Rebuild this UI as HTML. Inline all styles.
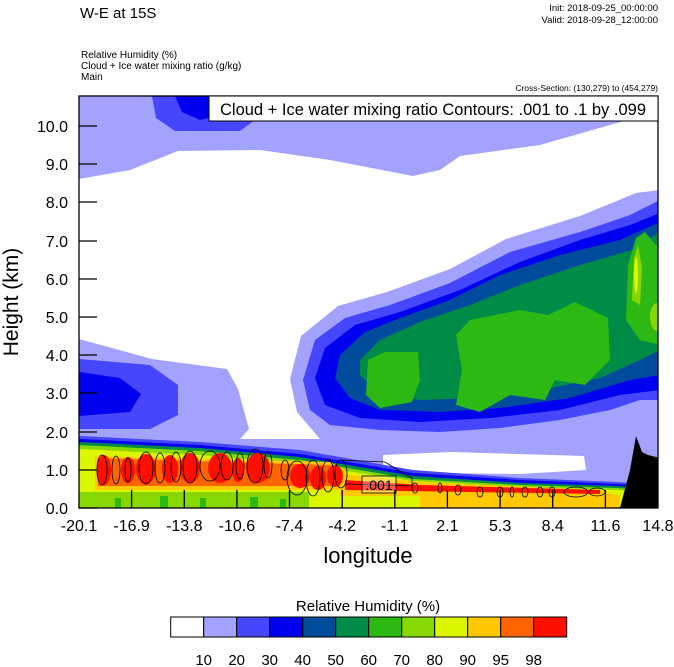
<!DOCTYPE html>
<html><head><meta charset="utf-8"><style>
html,body{margin:0;padding:0;background:#fff;}
svg{display:block;font-family:"Liberation Sans",Arial,sans-serif;}
</style></head><body>
<svg width="674" height="667" viewBox="0 0 674 667" xmlns="http://www.w3.org/2000/svg">
<defs><clipPath id="pc"><rect x="79" y="96" width="579" height="412"/></clipPath></defs>
<text x="80" y="18" font-size="15">W-E at 15S</text>
<text x="658" y="11" font-size="9.5" text-anchor="end">Init: 2018-09-25_00:00:00</text>
<text x="658" y="23" font-size="9.5" text-anchor="end">Valid: 2018-09-28_12:00:00</text>
<text x="81" y="58" font-size="10">Relative Humidity   (%)</text>
<text x="81" y="69" font-size="10">Cloud + Ice water mixing ratio   (g/kg)</text>
<text x="81" y="80" font-size="10">Main</text>
<text x="658" y="91" font-size="8.5" text-anchor="end">Cross-Section: (130,279) to (454,279)</text>
<g clip-path="url(#pc)">
<rect x="79" y="96" width="579" height="412" fill="#a3a3ff"/>
<path d="M152,96 L257,96 L255,120 L240,131 L175,131 L156,118 Z" fill="#4646ff"/>
<path d="M175,96 L227,96 L222,115 L200,120 L182,112 Z" fill="#0000f0"/>
<path d="M79,179 L130,170 L178,151 L260,150 L330,160 L413,176 L440,170 L460,156 L540,145 L617,123 L660,112 L660,190 L636,193 L580,216 L506,239 L450,269 L387,292 L338,306 L301,336 L290,379 L297,412 L320,439 L240,439 L249,429 L238,389 L227,369 L152,359 L79,339 Z" fill="#fff"/>
<path d="M383,455 L450,452 L584,456 L586,470 L520,474 L420,473 L383,468 Z" fill="#fff"/>
<path d="M79,359 L150,365 L178,385 L178,415 L150,429 L79,429 Z" fill="#4646ff"/>
<path d="M79,372 L120,378 L141,394 L130,412 L79,416 Z" fill="#0000f0"/>
<path d="M660,200 L630,215 L580,232 L510,252 L450,283 L390,305 L345,318 L315,340 L303,380 L310,410 L330,425 L380,430 L440,432 L500,428 L560,420 L610,410 L640,400 L660,400 Z" fill="#4646ff"/>
<path d="M660,213 L630,225 L580,240 L520,262 L460,290 L400,312 L355,325 L325,348 L315,378 L325,405 L360,418 L420,422 L490,418 L560,410 L620,395 L660,390 Z" fill="#0000f0"/>
<path d="M660,222 L620,240 L560,255 L500,275 L450,300 L400,318 L365,332 L340,355 L335,378 L350,398 L380,410 L440,412 L500,408 L570,398 L630,380 L660,375 Z" fill="#004b9b"/>
<path d="M660,232 L632,250 L580,265 L520,285 L470,305 L420,322 L380,340 L360,360 L360,375 L378,392 L420,400 L480,398 L540,390 L600,378 L640,360 L660,350 Z" fill="#008c46"/>
<path d="M368,360 L385,352 L418,352 L420,380 L412,402 L380,408 L366,395 Z" fill="#2db914"/>
<path d="M456,335 L470,320 L520,310 L548,315 L575,302 L608,318 L610,360 L585,385 L555,380 L545,400 L510,395 L480,412 L456,405 L462,370 Z" fill="#2db914"/>
<path d="M628,265 L636,238 L645,232 L660,250 L660,345 L640,340 L626,320 Z" fill="#2db914"/>
<path d="M632,300 L634,258 L638,245 L642,268 L640,305 Z" fill="#87d700"/>
<ellipse cx="657" cy="317" rx="7" ry="14" fill="#87d700"/>
<ellipse cx="636" cy="275" rx="2" ry="18" fill="#dcf500"/>
<path d="M79,436 L200,442 L300,450 L413,470 L520,478 L617,482 L660,485 L660,508 L79,508 Z" fill="#4646ff"/>
<path d="M79,439 L200,445 L300,454 L413,473 L520,480 L617,484 L660,487 L660,508 L79,508 Z" fill="#0000f0"/>
<path d="M79,442 L200,448 L300,457 L413,476 L520,483 L617,486 L660,489 L660,508 L79,508 Z" fill="#008c46"/>
<path d="M79,445 L200,451 L300,460 L413,479 L520,485 L617,488 L660,491 L660,508 L79,508 Z" fill="#87d700"/>
<path d="M79,449 L200,455 L300,464 L413,481 L520,487 L617,490 L660,493 L660,508 L79,508 Z" fill="#dcf500"/>
<path d="M79,490 L300,490 L330,480 L413,483 L620,492 L660,495 L660,508 L79,508 Z" fill="#dcf500"/>
<rect x="420" y="495" width="200" height="13" fill="#ffc800"/>
<rect x="79" y="492" width="230" height="16" fill="#87d700"/>
<g fill="#2db914"><rect x="115" y="498" width="6" height="10"/><rect x="160" y="496" width="8" height="12"/><rect x="200" y="498" width="6" height="10"/><rect x="250" y="497" width="8" height="11"/><rect x="280" y="499" width="6" height="9"/></g>
<path d="M95,456 L330,462 L345,470 L345,490 L95,490 Z" fill="#ffc800"/>
<path d="M340,474 L420,482 L600,490 L620,496 L340,496 Z" fill="#ffc800"/>
<path d="M98,458 L330,465 L340,472 L340,486 L98,486 Z" fill="#ff6400"/>
<g fill="#ff0f00">
<ellipse cx="104" cy="470" rx="7" ry="15"/><ellipse cx="128" cy="470" rx="7" ry="13"/><ellipse cx="146" cy="469" rx="10" ry="15"/><ellipse cx="170" cy="469" rx="8" ry="14"/><ellipse cx="190" cy="468" rx="10" ry="15"/><ellipse cx="220" cy="468" rx="12" ry="15"/><ellipse cx="258" cy="468" rx="12" ry="15"/><ellipse cx="238" cy="470" rx="6" ry="12"/><ellipse cx="300" cy="476" rx="10" ry="12"/><ellipse cx="318" cy="478" rx="8" ry="12"/><ellipse cx="335" cy="476" rx="8" ry="11"/>
<path d="M345,480 L420,485 L600,490 L600,494 L345,490 Z"/>
</g>
<path d="M620,508 L630,470 L636,436 L642,452 L648,455 L660,458 L660,508 Z" fill="#000"/>
<g fill="none" stroke="#000" stroke-width="0.8">
<ellipse cx="102" cy="470" rx="5" ry="15"/><ellipse cx="116" cy="470" rx="4" ry="14"/><ellipse cx="128" cy="470" rx="3" ry="12"/><ellipse cx="146" cy="468" rx="7" ry="16"/><ellipse cx="160" cy="468" rx="5" ry="15"/><ellipse cx="176" cy="467" rx="5" ry="15"/><ellipse cx="190" cy="467" rx="7" ry="16"/><ellipse cx="210" cy="466" rx="10" ry="15"/><ellipse cx="227" cy="466" rx="6" ry="14"/><ellipse cx="240" cy="466" rx="4" ry="13"/><ellipse cx="255" cy="466" rx="8" ry="17"/><ellipse cx="268" cy="465" rx="4" ry="13"/><ellipse cx="285" cy="470" rx="4" ry="10"/>
<ellipse cx="297" cy="478" rx="10" ry="17"/><ellipse cx="313" cy="478" rx="7" ry="18"/><ellipse cx="328" cy="476" rx="6" ry="16"/><ellipse cx="341" cy="474" rx="6" ry="14"/>
<path d="M340,460 L385,462 L398,470 L412,478 L412,486 L345,484"/>
<ellipse cx="415" cy="488" rx="3" ry="5"/><ellipse cx="440" cy="488" rx="2" ry="5"/><ellipse cx="458" cy="490" rx="3" ry="5"/><ellipse cx="480" cy="492" rx="3" ry="5"/><ellipse cx="500" cy="492" rx="3" ry="5"/><ellipse cx="512" cy="492" rx="2" ry="5"/><ellipse cx="525" cy="492" rx="3" ry="5"/><ellipse cx="540" cy="492" rx="3" ry="5"/><ellipse cx="552" cy="492" rx="3" ry="5"/><ellipse cx="576" cy="492" rx="12" ry="5"/><ellipse cx="597" cy="492" rx="8" ry="4"/>
</g>
<rect x="362" y="476" width="34" height="17" fill="#fff" fill-opacity="0.3" stroke="#000" stroke-width="0.8"/>
<text x="379" y="490" font-size="14" text-anchor="middle">.001</text>
</g>
<rect x="79" y="96" width="579" height="412" fill="none" stroke="#000" stroke-width="1.3"/>
<rect x="209" y="96" width="449" height="25" fill="#fff" stroke="#000" stroke-width="1"/>
<text x="433" y="115" font-size="16.5" text-anchor="middle">Cloud + Ice water mixing ratio Contours: .001 to .1 by .099</text>
<g stroke="#000" stroke-width="1.3">
<line x1="79" y1="508" x2="97" y2="508"/><line x1="79" y1="470" x2="97" y2="470"/><line x1="79" y1="432" x2="97" y2="432"/><line x1="79" y1="393" x2="97" y2="393"/><line x1="79" y1="355" x2="97" y2="355"/><line x1="79" y1="317" x2="97" y2="317"/><line x1="79" y1="279" x2="97" y2="279"/><line x1="79" y1="241" x2="97" y2="241"/><line x1="79" y1="202" x2="97" y2="202"/><line x1="79" y1="164" x2="97" y2="164"/><line x1="79" y1="126" x2="97" y2="126"/>
<line x1="131.6" y1="508" x2="131.6" y2="490"/><line x1="184.3" y1="508" x2="184.3" y2="490"/><line x1="236.9" y1="508" x2="236.9" y2="490"/><line x1="289.5" y1="508" x2="289.5" y2="490"/><line x1="342.2" y1="508" x2="342.2" y2="490"/><line x1="394.8" y1="508" x2="394.8" y2="490"/><line x1="447.4" y1="508" x2="447.4" y2="490"/><line x1="500.1" y1="508" x2="500.1" y2="490"/><line x1="552.7" y1="508" x2="552.7" y2="490"/><line x1="605.4" y1="508" x2="605.4" y2="490"/>
</g>
<g font-size="16" text-anchor="end">
<text x="68" y="514">0.0</text><text x="68" y="476">1.0</text><text x="68" y="438">2.0</text><text x="68" y="399">3.0</text><text x="68" y="361">4.0</text><text x="68" y="323">5.0</text><text x="68" y="285">6.0</text><text x="68" y="247">7.0</text><text x="68" y="208">8.0</text><text x="68" y="170">9.0</text><text x="68" y="132">10.0</text>
</g>
<g font-size="16" text-anchor="middle">
<text x="79" y="531">-20.1</text><text x="131.6" y="531">-16.9</text><text x="184.3" y="531">-13.8</text><text x="236.9" y="531">-10.6</text><text x="289.5" y="531">-7.4</text><text x="342.2" y="531">-4.2</text><text x="394.8" y="531">-1.1</text><text x="447.4" y="531">2.1</text><text x="500.1" y="531">5.3</text><text x="552.7" y="531">8.4</text><text x="605.4" y="531">11.6</text><text x="658" y="531">14.8</text>
</g>
<text x="368" y="563" font-size="22" text-anchor="middle">longitude</text>
<text transform="translate(18,302) rotate(-90)" font-size="21" text-anchor="middle">Height (km)</text>
<text x="368" y="611" font-size="15" text-anchor="middle">Relative Humidity  (%)</text>
<g stroke="#000" stroke-width="1">
<rect x="170.7" y="617" width="33" height="20" fill="#fff"/><rect x="203.7" y="617" width="33" height="20" fill="#a3a3ff"/><rect x="236.7" y="617" width="33" height="20" fill="#4646ff"/><rect x="269.7" y="617" width="33" height="20" fill="#0000f0"/><rect x="302.7" y="617" width="33" height="20" fill="#004b9b"/><rect x="335.7" y="617" width="33" height="20" fill="#008c46"/><rect x="368.7" y="617" width="33" height="20" fill="#2db914"/><rect x="401.7" y="617" width="33" height="20" fill="#87d700"/><rect x="434.7" y="617" width="33" height="20" fill="#dcf500"/><rect x="467.7" y="617" width="33" height="20" fill="#ffc800"/><rect x="500.7" y="617" width="33" height="20" fill="#ff6400"/><rect x="533.7" y="617" width="33" height="20" fill="#ff0f00"/>
</g>
<g font-size="15" text-anchor="middle">
<text x="203.7" y="665">10</text><text x="236.7" y="665">20</text><text x="269.7" y="665">30</text><text x="302.7" y="665">40</text><text x="335.7" y="665">50</text><text x="368.7" y="665">60</text><text x="401.7" y="665">70</text><text x="434.7" y="665">80</text><text x="467.7" y="665">90</text><text x="500.7" y="665">95</text><text x="533.7" y="665">98</text>
</g>
</svg>
</body></html>
